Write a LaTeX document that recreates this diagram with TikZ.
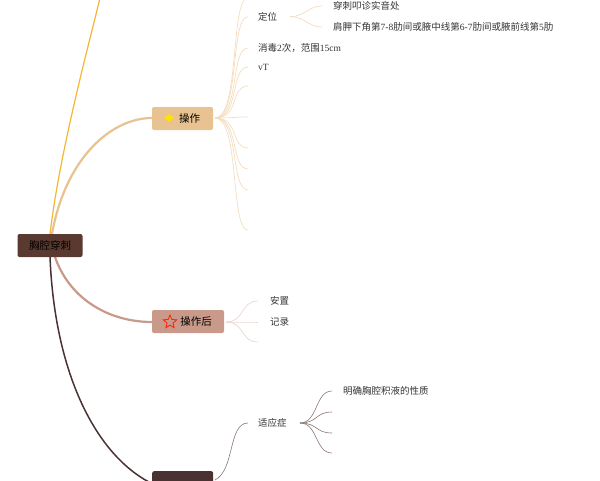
\documentclass[tikz,border=0pt]{standalone}
\usepackage{fontspec}
\setmainfont{Noto Sans CJK SC}
\newfontfamily\digf{Liberation Serif}
\usetikzlibrary{shapes.geometric}
\definecolor{rootc}{HTML}{5A3A30}
\definecolor{opc}{HTML}{E8C290}
\definecolor{opl}{HTML}{F3DDBE}
\definecolor{postc}{HTML}{C9998A}
\definecolor{postl}{HTML}{EBD6CF}
\definecolor{darkc}{HTML}{4A3232}
\definecolor{darkl}{HTML}{8A7570}
\definecolor{yel}{HTML}{F5B731}
\begin{document}
\begin{tikzpicture}[x=1pt,y=-1pt,
  mainbox/.style={rounded corners=2pt,minimum height=23pt,inner sep=0pt,font=\fontsize{10.5}{11}\selectfont},
  lbl/.style={anchor=west,inner sep=0pt,font=\fontsize{9.5}{10}\selectfont,text=black!80},
  opb/.style={opl,line width=0.7pt},
  pob/.style={postl,line width=0.7pt},
  dkb/.style={darkl,line width=0.6pt}]
\useasboundingbox (0,0) rectangle (600,480);
\clip (0,0) rectangle (600,480);
% main curves
\coordinate (ytop) at (100,-2);
\draw[yel,line width=1.2pt] (50,234) .. controls (60,150) and (90,40) .. (ytop);
\draw[opc,line width=2.2pt] (52,234) .. controls (65,160) and (110,118) .. (152,118);
\draw[postc,line width=2.2pt] (55,257) .. controls (70,300) and (110,322) .. (152,322);
\draw[darkc,line width=1.5pt] (50,257) .. controls (55,380) and (100,460) .. (155,485);
% nodes
\node[mainbox,fill=rootc,minimum width=65pt] (root) at (50,245.5) {胸腔穿刺};
\node[mainbox,fill=opc,minimum width=61pt] (op) at (182.5,118.5) {\hspace{14pt}操作};
\node[yellow!85!orange,diamond,fill,inner sep=0pt,minimum width=10pt,minimum height=8pt] (gem) at (169,118) {};
\node[mainbox,fill=postc,minimum width=72pt] (post) at (188,321.5) {\hspace{16pt}操作后};
\node[draw=red!75!orange,star,star points=5,star point ratio=2.2,line width=0.8pt,inner sep=0pt,minimum size=14pt] (st) at (170,322) {};
\node[mainbox,fill=darkc,minimum width=61pt,anchor=north west] (bot) at (152,471) {};
% operation branches
\coordinate (o) at (215,118);
\foreach \yy/\nm in {-2/a,16.7/b,48/c,67/d,86/e,117/f,148/g,169/h,190/i,230/j}{
  \coordinate (ob\nm) at (248,\yy);
  \draw[opb] (o) .. controls (240,118) and (230,\yy) .. (ob\nm);
}
\node[lbl] (dw) at (258,16.7) {定位};
\node[lbl] (xd) at (258,48) {消毒{\digf 2}次，范围{\digf 15cm}};
\node[lbl] (vt) at (258,67) {\digf vT};
\coordinate (dwr) at (290,16.7);
\coordinate (d1) at (322,6);
\coordinate (d2) at (322,27);
\draw[opb] (dwr) .. controls (305,16.7) and (308,6) .. (d1);
\draw[opb] (dwr) .. controls (305,16.7) and (308,27) .. (d2);
\node[lbl] (t1) at (333,6) {穿刺叩诊实音处};
\node[lbl] (t2) at (333,27) {肩胛下角第{\digf 7-8}肋间或腋中线第{\digf 6-7}肋间或腋前线第{\digf 5}肋};
% post branches
\coordinate (p) at (226,322);
\foreach \yy/\nm in {301/a,322/b,342/c}{
  \coordinate (pb\nm) at (258,\yy);
  \draw[pob] (p) .. controls (245,322) and (240,\yy) .. (pb\nm);
}
\node[lbl] (az) at (270,301) {安置};
\node[lbl] (jl) at (270,322) {记录};
% bottom branches
\coordinate (bb) at (215,480);
\coordinate (sy) at (248,423);
\draw[dkb] (bb) .. controls (235,470) and (228,423) .. (sy);
\node[lbl] (syz) at (258,423) {适应症};
\coordinate (sr) at (300,423);
\foreach \yy/\nm in {391/a,412/b,433/c,453/d}{
  \coordinate (sb\nm) at (332,\yy);
  \draw[dkb] (sr) .. controls (318,423) and (315,\yy) .. (sb\nm);
}
\node[lbl] (mq) at (343,391) {明确胸腔积液的性质};
\end{tikzpicture}
\end{document}
